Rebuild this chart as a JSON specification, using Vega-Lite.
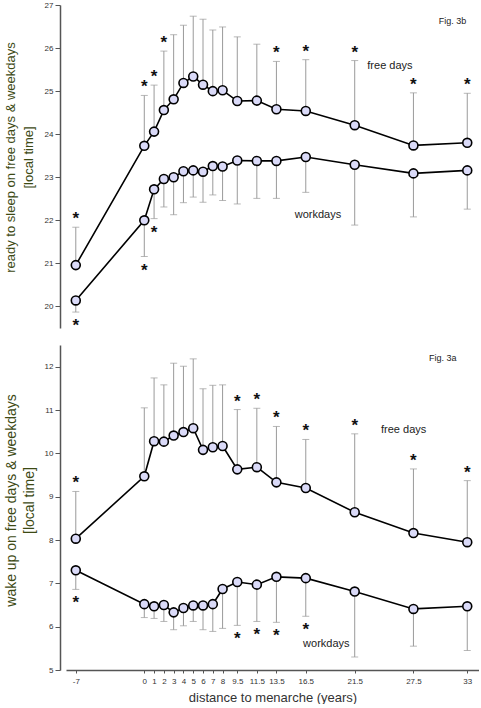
{
  "$schema": "https://vega.github.io/schema/vega-lite/v6.json",
  "padding": {"left": 4, "top": 1, "right": 0, "bottom": 0},
  "config": {
    "view": {"stroke": null},
    "font": "Liberation Sans",
    "concat": {"spacing": 10},
    "axisX": {"labelOverlap": false, "labelFlush": false, "labelSeparation": 0}
  },
  "datasets": {
    "pts": [
      {"panel": "sleep", "series": "free", "x": -7, "y": 20.96, "err": 21.84, "star": 1},
      {"panel": "sleep", "series": "free", "x": 0, "y": 23.73, "err": 24.90, "star": 1},
      {"panel": "sleep", "series": "free", "x": 1, "y": 24.06, "err": 25.14, "star": 1},
      {"panel": "sleep", "series": "free", "x": 2, "y": 24.56, "err": 25.93, "star": 1},
      {"panel": "sleep", "series": "free", "x": 3, "y": 24.81, "err": 26.31, "star": 0},
      {"panel": "sleep", "series": "free", "x": 4, "y": 25.19, "err": 26.53, "star": 0},
      {"panel": "sleep", "series": "free", "x": 5, "y": 25.34, "err": 26.74, "star": 0},
      {"panel": "sleep", "series": "free", "x": 6, "y": 25.15, "err": 26.67, "star": 0},
      {"panel": "sleep", "series": "free", "x": 7, "y": 25.00, "err": 26.42, "star": 0},
      {"panel": "sleep", "series": "free", "x": 8, "y": 25.02, "err": 26.49, "star": 0},
      {"panel": "sleep", "series": "free", "x": 9.5, "y": 24.77, "err": 26.26, "star": 0},
      {"panel": "sleep", "series": "free", "x": 11.5, "y": 24.78, "err": 26.09, "star": 0},
      {"panel": "sleep", "series": "free", "x": 13.5, "y": 24.58, "err": 25.69, "star": 1},
      {"panel": "sleep", "series": "free", "x": 16.5, "y": 24.54, "err": 25.73, "star": 1},
      {"panel": "sleep", "series": "free", "x": 21.5, "y": 24.21, "err": 25.71, "star": 1},
      {"panel": "sleep", "series": "free", "x": 27.5, "y": 23.74, "err": 24.96, "star": 1},
      {"panel": "sleep", "series": "free", "x": 33, "y": 23.80, "err": 24.95, "star": 1},
      {"panel": "sleep", "series": "work", "x": -7, "y": 20.14, "err": 19.87, "star": 1},
      {"panel": "sleep", "series": "work", "x": 0, "y": 22.00, "err": 21.16, "star": 1},
      {"panel": "sleep", "series": "work", "x": 1, "y": 22.72, "err": 22.04, "star": 1},
      {"panel": "sleep", "series": "work", "x": 2, "y": 22.96, "err": 22.31, "star": 0},
      {"panel": "sleep", "series": "work", "x": 3, "y": 23.00, "err": 22.13, "star": 0},
      {"panel": "sleep", "series": "work", "x": 4, "y": 23.14, "err": 22.41, "star": 0},
      {"panel": "sleep", "series": "work", "x": 5, "y": 23.16, "err": 22.54, "star": 0},
      {"panel": "sleep", "series": "work", "x": 6, "y": 23.13, "err": 22.42, "star": 0},
      {"panel": "sleep", "series": "work", "x": 7, "y": 23.26, "err": 22.59, "star": 0},
      {"panel": "sleep", "series": "work", "x": 8, "y": 23.25, "err": 22.46, "star": 0},
      {"panel": "sleep", "series": "work", "x": 9.5, "y": 23.39, "err": 22.38, "star": 0},
      {"panel": "sleep", "series": "work", "x": 11.5, "y": 23.38, "err": 22.51, "star": 0},
      {"panel": "sleep", "series": "work", "x": 13.5, "y": 23.38, "err": 22.51, "star": 0},
      {"panel": "sleep", "series": "work", "x": 16.5, "y": 23.47, "err": 22.65, "star": 0},
      {"panel": "sleep", "series": "work", "x": 21.5, "y": 23.29, "err": 21.89, "star": 0},
      {"panel": "sleep", "series": "work", "x": 27.5, "y": 23.09, "err": 22.08, "star": 0},
      {"panel": "sleep", "series": "work", "x": 33, "y": 23.16, "err": 22.26, "star": 0},
      {"panel": "wake", "series": "free", "x": -7, "y": 8.03, "err": 9.12, "star": 1},
      {"panel": "wake", "series": "free", "x": 0, "y": 9.47, "err": 11.05, "star": 0},
      {"panel": "wake", "series": "free", "x": 1, "y": 10.28, "err": 11.74, "star": 0},
      {"panel": "wake", "series": "free", "x": 2, "y": 10.27, "err": 11.58, "star": 0},
      {"panel": "wake", "series": "free", "x": 3, "y": 10.41, "err": 12.08, "star": 0},
      {"panel": "wake", "series": "free", "x": 4, "y": 10.49, "err": 12.01, "star": 0},
      {"panel": "wake", "series": "free", "x": 5, "y": 10.58, "err": 12.18, "star": 0},
      {"panel": "wake", "series": "free", "x": 6, "y": 10.08, "err": 11.49, "star": 0},
      {"panel": "wake", "series": "free", "x": 7, "y": 10.14, "err": 11.57, "star": 0},
      {"panel": "wake", "series": "free", "x": 8, "y": 10.17, "err": 11.58, "star": 0},
      {"panel": "wake", "series": "free", "x": 9.5, "y": 9.63, "err": 11.01, "star": 1},
      {"panel": "wake", "series": "free", "x": 11.5, "y": 9.68, "err": 11.04, "star": 1},
      {"panel": "wake", "series": "free", "x": 13.5, "y": 9.33, "err": 10.62, "star": 1},
      {"panel": "wake", "series": "free", "x": 16.5, "y": 9.20, "err": 10.32, "star": 1},
      {"panel": "wake", "series": "free", "x": 21.5, "y": 8.64, "err": 10.45, "star": 1},
      {"panel": "wake", "series": "free", "x": 27.5, "y": 8.16, "err": 9.64, "star": 1},
      {"panel": "wake", "series": "free", "x": 33, "y": 7.95, "err": 9.37, "star": 1},
      {"panel": "wake", "series": "work", "x": -7, "y": 7.30, "err": 6.86, "star": 1},
      {"panel": "wake", "series": "work", "x": 0, "y": 6.52, "err": 6.21, "star": 0},
      {"panel": "wake", "series": "work", "x": 1, "y": 6.47, "err": 6.19, "star": 0},
      {"panel": "wake", "series": "work", "x": 2, "y": 6.50, "err": 6.12, "star": 0},
      {"panel": "wake", "series": "work", "x": 3, "y": 6.33, "err": 5.93, "star": 0},
      {"panel": "wake", "series": "work", "x": 4, "y": 6.43, "err": 6.02, "star": 0},
      {"panel": "wake", "series": "work", "x": 5, "y": 6.49, "err": 6.12, "star": 0},
      {"panel": "wake", "series": "work", "x": 6, "y": 6.49, "err": 5.93, "star": 0},
      {"panel": "wake", "series": "work", "x": 7, "y": 6.52, "err": 5.89, "star": 0},
      {"panel": "wake", "series": "work", "x": 8, "y": 6.87, "err": 5.96, "star": 0},
      {"panel": "wake", "series": "work", "x": 9.5, "y": 7.03, "err": 6.03, "star": 1},
      {"panel": "wake", "series": "work", "x": 11.5, "y": 6.97, "err": 6.12, "star": 1},
      {"panel": "wake", "series": "work", "x": 13.5, "y": 7.15, "err": 6.10, "star": 1},
      {"panel": "wake", "series": "work", "x": 16.5, "y": 7.12, "err": 6.24, "star": 1},
      {"panel": "wake", "series": "work", "x": 21.5, "y": 6.81, "err": 5.30, "star": 0},
      {"panel": "wake", "series": "work", "x": 27.5, "y": 6.41, "err": 5.55, "star": 0},
      {"panel": "wake", "series": "work", "x": 33, "y": 6.47, "err": 5.45, "star": 0}
    ],
    "notes": [
      {"panel": "sleep", "x": 25.1, "y": 25.58, "label": "free days", "size": 11},
      {"panel": "sleep", "x": 17.75, "y": 22.13, "label": "workdays", "size": 11},
      {"panel": "sleep", "x": 31.5, "y": 26.63, "label": "Fig. 3b", "size": 9},
      {"panel": "wake", "x": 26.5, "y": 10.55, "label": "free days", "size": 11},
      {"panel": "wake", "x": 18.6, "y": 5.59, "label": "workdays", "size": 11},
      {"panel": "wake", "x": 30.5, "y": 12.2, "label": "Fig. 3a", "size": 9}
    ]
  },
  "vconcat": [
    {
      "width": 413,
      "height": 323,
      "data": {"name": "pts"},
      "transform": [{"filter": "datum.panel === 'sleep'"}],
      "encoding": {
        "x": {"field": "x", "type": "quantitative", "scale": {"domain": [-8, 34.2], "nice": false, "zero": false}, "axis": null},
        "y": {"field": "y", "type": "quantitative", "scale": {"domain": [19.5, 27], "nice": false, "zero": false},
          "axis": {"values": [20, 21, 22, 23, 24, 25, 26, 27], "offset": 6, "tickSize": 5, "grid": false,
            "labelFontSize": 8, "labelColor": "#333", "domainColor": "#555", "domainWidth": 1.5, "tickColor": "#555",
            "title": ["ready to sleep on free days & weekdays", "[local time]"], "titleFontSize": 13, "titleFontWeight": "normal",
            "titleColor": "#3d4a14", "titleLineHeight": 18, "titlePadding": 9, "titleY": 152}}
      },
      "layer": [
        {
          "mark": {"type": "rule", "color": "#9a9a9a", "strokeWidth": 1},
          "encoding": {"y2": {"field": "err"}}
        },
        {
          "mark": {"type": "tick", "orient": "horizontal", "color": "#9a9a9a", "thickness": 1, "size": 7},
          "encoding": {"y": {"field": "err", "type": "quantitative"}}
        },
        {
          "mark": {"type": "line", "color": "black", "strokeWidth": 1.6},
          "encoding": {"detail": {"field": "series"}}
        },
        {
          "mark": {"type": "point", "shape": "circle", "filled": true, "fill": "#dadaf8", "stroke": "black", "strokeWidth": 1.6, "size": 80, "opacity": 1},
          "encoding": {}
        },
        {
          "transform": [{"filter": "datum.star === 1 && datum.series === 'free'"}],
          "mark": {"type": "text", "text": "*", "fontSize": 17, "fontWeight": "bold", "dy": -3, "baseline": "alphabetic", "color": "#111"},
          "encoding": {"y": {"field": "err", "type": "quantitative"}}
        },
        {
          "transform": [{"filter": "datum.star === 1 && datum.series === 'work'"}],
          "mark": {"type": "text", "text": "*", "fontSize": 17, "fontWeight": "bold", "dy": 19, "baseline": "alphabetic", "color": "#111"},
          "encoding": {"y": {"field": "err", "type": "quantitative"}}
        },
        {
          "data": {"name": "notes"},
          "transform": [{"filter": "datum.panel === 'sleep'"}],
          "mark": {"type": "text", "color": "#222", "baseline": "middle"},
          "encoding": {
            "text": {"field": "label"},
            "size": {"field": "size", "type": "quantitative", "scale": null}
          }
        }
      ]
    },
    {
      "width": 413,
      "height": 325,
      "data": {"name": "pts"},
      "transform": [{"filter": "datum.panel === 'wake'"}],
      "encoding": {
        "x": {"field": "x", "type": "quantitative", "scale": {"domain": [-8, 34.2], "nice": false, "zero": false},
          "axis": {"values": [-7, 0, 1, 2, 3, 4, 5, 6, 7, 8, 9.5, 11.5, 13.5, 16.5, 21.5, 27.5, 33], "labelExpr": "'' + datum.value", "tickSize": 3, "grid": false,
            "labelFontSize": 8, "labelColor": "#333", "domainColor": "#555", "domainWidth": 1.5, "tickColor": "#555", "labelPadding": 4, "labelFlush": false, "labelOverlap": false,
            "title": "distance to menarche (years)", "titleFontSize": 13, "titleFontWeight": "normal", "titleColor": "#333", "titlePadding": 6}},
        "y": {"field": "y", "type": "quantitative", "scale": {"domain": [5, 12.5], "nice": false, "zero": false},
          "axis": {"values": [5, 6, 7, 8, 9, 10, 11, 12], "offset": 6, "tickSize": 5, "grid": false,
            "labelFontSize": 8, "labelColor": "#333", "domainColor": "#555", "domainWidth": 1.5, "tickColor": "#555",
            "title": ["wake up on free days & weekdays", "[local time]"], "titleFontSize": 14, "titleFontWeight": "normal",
            "titleColor": "#3d4a14", "titleLineHeight": 18, "titlePadding": 8, "titleY": 155}}
      },
      "layer": [
        {
          "mark": {"type": "rule", "color": "#9a9a9a", "strokeWidth": 1},
          "encoding": {"y2": {"field": "err"}}
        },
        {
          "mark": {"type": "tick", "orient": "horizontal", "color": "#9a9a9a", "thickness": 1, "size": 7},
          "encoding": {"y": {"field": "err", "type": "quantitative"}}
        },
        {
          "mark": {"type": "line", "color": "black", "strokeWidth": 1.6},
          "encoding": {"detail": {"field": "series"}}
        },
        {
          "mark": {"type": "point", "shape": "circle", "filled": true, "fill": "#dadaf8", "stroke": "black", "strokeWidth": 1.6, "size": 80, "opacity": 1},
          "encoding": {}
        },
        {
          "transform": [{"filter": "datum.star === 1 && datum.series === 'free'"}],
          "mark": {"type": "text", "text": "*", "fontSize": 17, "fontWeight": "bold", "dy": -3, "baseline": "alphabetic", "color": "#111"},
          "encoding": {"y": {"field": "err", "type": "quantitative"}}
        },
        {
          "transform": [{"filter": "datum.star === 1 && datum.series === 'work'"}],
          "mark": {"type": "text", "text": "*", "fontSize": 17, "fontWeight": "bold", "dy": 19, "baseline": "alphabetic", "color": "#111"},
          "encoding": {"y": {"field": "err", "type": "quantitative"}}
        },
        {
          "data": {"name": "notes"},
          "transform": [{"filter": "datum.panel === 'wake'"}],
          "mark": {"type": "text", "color": "#222", "baseline": "middle"},
          "encoding": {
            "text": {"field": "label"},
            "size": {"field": "size", "type": "quantitative", "scale": null}
          }
        }
      ]
    }
  ]
}
